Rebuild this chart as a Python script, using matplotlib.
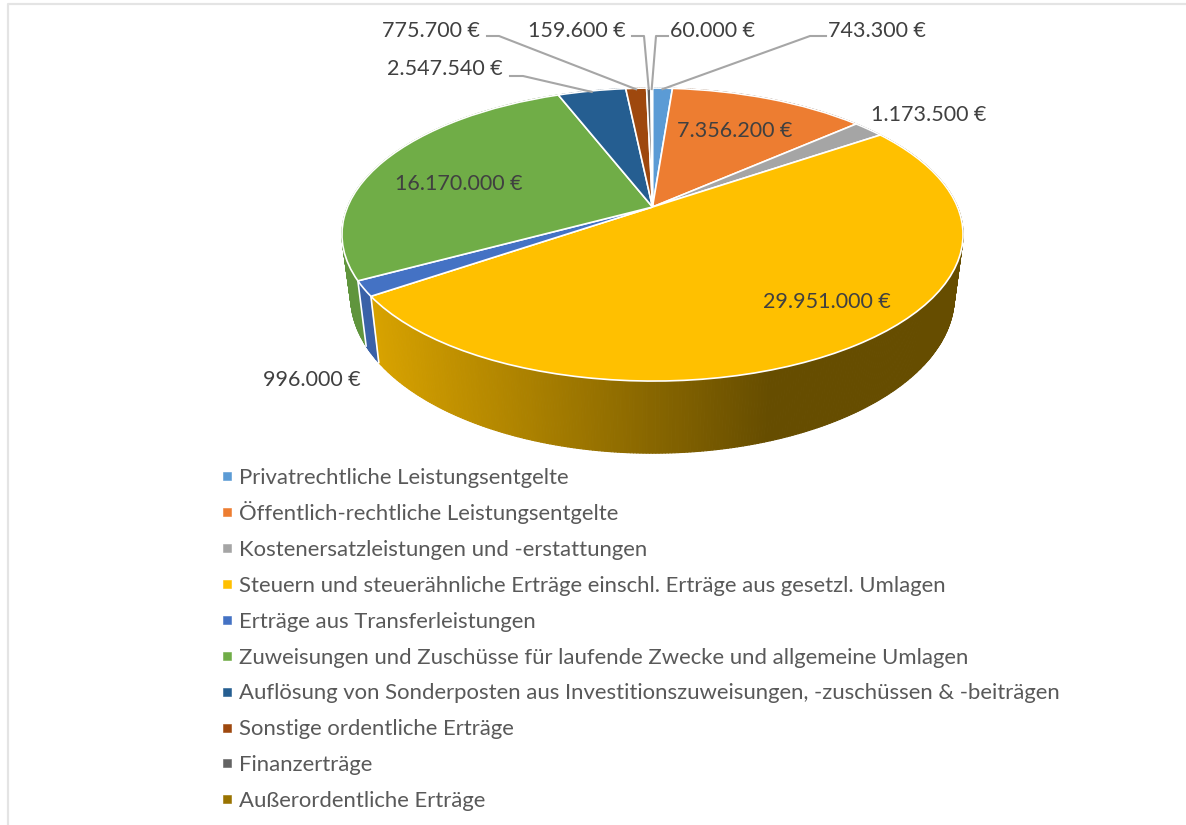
import numpy as np
import matplotlib
matplotlib.use("Agg")
import matplotlib.pyplot as plt
from matplotlib.collections import PolyCollection
from matplotlib.lines import Line2D
from matplotlib.transforms import Transform, Bbox

categories = [
    "Privatrechtliche Leistungsentgelte",
    "Öffentlich-rechtliche Leistungsentgelte",
    "Kostenersatzleistungen und -erstattungen",
    "Steuern und steuerähnliche Erträge einschl. Erträge aus gesetzl. Umlagen",
    "Erträge aus Transferleistungen",
    "Zuweisungen und Zuschüsse für laufende Zwecke und allgemeine Umlagen",
    "Auflösung von Sonderposten aus Investitionszuweisungen, -zuschüssen & -beiträgen",
    "Sonstige ordentliche Erträge",
    "Finanzerträge",
    "Außerordentliche Erträge",
]
values = [743300, 7356200, 1173500, 29951000, 996000, 16170000, 2547540, 775700, 159600, 60000]
value_labels = ["743.300 €", "7.356.200 €", "1.173.500 €", "29.951.000 €", "996.000 €",
                "16.170.000 €", "2.547.540 €", "775.700 €", "159.600 €", "60.000 €"]
colors = ["#5b9bd5", "#ed7d31", "#a5a5a5", "#ffc000", "#4472c4",
          "#70ad47", "#255e91", "#9e480e", "#636363", "#997300"]

# layout (pixels)
label_pos = [(877, 31), (735, 131), (929, 115), (827, 302), (312, 380),
             (459, 184), (445, 69), (431, 31), (577, 31), (713, 31)]
# leader knees: (index, label-side end, knee)
leaders = {0: ((826, 36), (810, 36)), 9: ((668, 36), (656, 36)), 8: ((632, 36), (644, 36)),
           7: ((487, 36), (499, 36)), 6: ((510, 76), (523, 76))}
CX, CY, A, B, K = 652.5, 207.0, 141.3, 305.0, 0.188
DEPTH, SHRINK_X, SHRINK_Y = 60.0, 0.972, 1.07
FS_LABEL, FS_LEGEND = 15.5, 15.9
TEXT = "#404040"
plt.rcParams["font.family"] = ["Lato", "DejaVu Sans"]


class Perspective(Transform):
    """Maps the unit circle of the pie to the tilted disc on the page."""
    input_dims = output_dims = 2
    is_separable = False
    has_inverse = False

    def __init__(self, sx=1.0, sy=1.0, dy=0.0):
        super().__init__()
        self.sx, self.sy, self.dy = sx, sy, dy

    def transform_non_affine(self, values):
        v = np.asarray(values, float)
        w = 1 + K * v[:, 1]
        return np.column_stack((CX + self.sx * B * v[:, 0] / w,
                                CY + self.dy - self.sy * A * v[:, 1] / w))


top = Perspective()
bottom = Perspective(SHRINK_X, SHRINK_Y, DEPTH)


def unit(theta):
    return np.column_stack((np.cos(theta), np.sin(theta)))


def shade(x):
    return np.clip(0.84 - (x - 378) * 0.44 / 392, 0.40, 0.86)


fig = plt.figure(figsize=(11.86, 8.25), dpi=100)
ax = fig.add_axes([0, 0, 1, 1])
wedges, _ = ax.pie(values, colors=colors, startangle=90, counterclock=False,
                   wedgeprops=dict(edgecolor="white", linewidth=1.2))
pers = top + ax.transData
for w in wedges:
    w.set_transform(pers)
    w.set_zorder(5)
ax.set_aspect("auto")
ax.set_xlim(0, 1186)
ax.set_ylim(825, 0)
ax.axis("off")

# side wall
fracs = np.cumsum([0] + values) / sum(values)
angles = np.pi / 2 - 2 * np.pi * fracs
polys, fcs, depth = [], [], []
for i, c in enumerate(colors):
    n = max(2, int(abs(angles[i + 1] - angles[i]) / np.radians(0.5)))
    th = np.linspace(angles[i], angles[i + 1], n + 1)
    t_pts = top.transform(unit(th))
    b_pts = bottom.transform(unit(th))
    base = np.array(matplotlib.colors.to_rgb(c))
    for j in range(n):
        polys.append([t_pts[j], t_pts[j + 1], b_pts[j + 1], b_pts[j]])
        fcs.append(tuple(base * shade(t_pts[j:j + 2, 0].mean())))
        depth.append(np.sin((th[j] + th[j + 1]) / 2))
order = np.argsort(-np.array(depth))
ax.add_collection(PolyCollection([polys[i] for i in order], facecolors=[fcs[i] for i in order],
                                 edgecolors="face", linewidths=0.8, zorder=2))
for a in angles[:-1]:
    p, q = top.transform(unit(np.array([a]))), bottom.transform(unit(np.array([a])))
    ax.plot([p[0, 0], q[0, 0]], [p[0, 1], q[0, 1]], color="white", lw=1.2, zorder=3)

# value labels and leader lines
mids = (angles[:-1] + angles[1:]) / 2
rim = top.transform(unit(mids))
for i, (lab, pos) in enumerate(zip(value_labels, label_pos)):
    ax.text(pos[0], pos[1], lab, ha="center", va="center", fontsize=FS_LABEL, color=TEXT, zorder=7)
    if i in leaders:
        s, k = leaders[i]
        ax.plot([s[0], k[0], rim[i, 0]], [s[1], k[1], rim[i, 1] + 1], color="#a6a6a6", lw=1.5, zorder=6)

# legend
handles = [Line2D([], [], ls="none", marker="s", ms=5.3, mew=0.4, mfc=c, mec=c) for c in colors]
leg = ax.legend(handles, categories, loc="upper left", bbox_to_anchor=(222, 468),
                bbox_transform=ax.transData, frameon=False, fontsize=FS_LEGEND, labelcolor="#595959",
                borderpad=0, borderaxespad=0, labelspacing=0.72, handlelength=0.45, handletextpad=0.3)

# equal row pitch: umlauts on capitals must not make a row taller
rows = leg._legend_handle_box.get_children()[0].get_children()
renderer = fig.canvas.get_renderer()
ref_h = rows[0].get_children()[1].get_bbox(renderer).height


def fixed(area):
    orig = area.get_bbox

    def get_bbox(r):
        bb = orig(r)
        return Bbox.from_extents(bb.x0, bb.y0, bb.x1, bb.y0 + ref_h)
    area.get_bbox = get_bbox


for row in rows:
    fixed(row.get_children()[1])

# page border of the source picture
ax.plot([8, 8, 1186], [825, 4, 4], color="#e4e4e4", lw=1.6, zorder=1)

fig.savefig("out.png", dpi=100)
